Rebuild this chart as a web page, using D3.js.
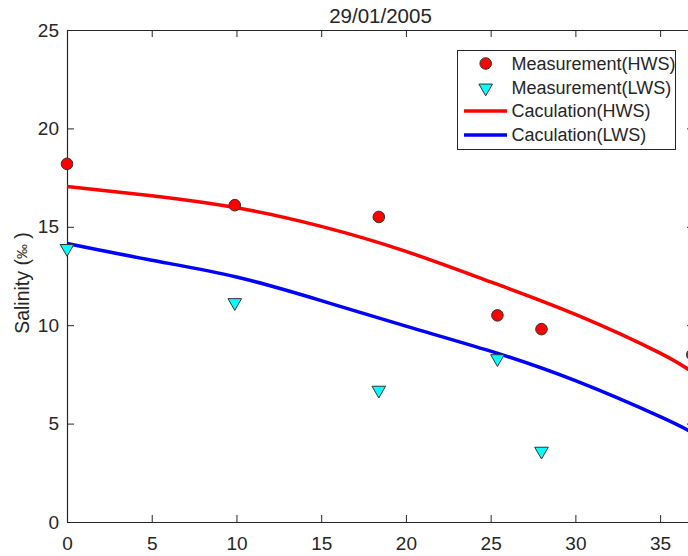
<!DOCTYPE html>
<html>
<head>
<meta charset="utf-8">
<script src="https://cdn.jsdelivr.net/npm/d3@7"></script>
<style>
  html, body { margin: 0; padding: 0; background: #fff; overflow: hidden; }
  svg { display: block; font-family: Arial, "Liberation Sans", Helvetica, sans-serif; }
</style>
</head>
<body>
<svg id="chart" width="688" height="556"></svg>
<script>
// ---- data ----
const title = "29/01/2005";
const yLabel = "Salinity";
const xTicks = [0, 5, 10, 15, 20, 25, 30, 35];
const yTicks = [0, 5, 10, 15, 20, 25];
const xDomain = [0, 37];
const yDomain = [0, 25];

const measHWSx = [0, 9.9, 18.4, 25.4, 28.0, 36.9];
const measHWSy = [18.2, 16.1, 15.5, 10.5, 9.8, 8.5];

const measLWSx = [0, 9.9, 18.4, 25.4, 28.0];
const measLWSy = [13.9, 11.15, 6.7, 8.3, 3.6];

const calcX    = [0, 5, 10, 15, 20, 25, 30, 35, 37];
const calcHWSy = [17.05, 16.58, 15.97, 15.02, 13.75, 12.2, 10.55, 8.58, 7.55];
const calcLWSy = [14.15, 13.3, 12.45, 11.25, 9.95, 8.68, 7.18, 5.35, 4.5];

const legendLabels = ["Measurement(HWS)", "Measurement(LWS)", "Caculation(HWS)", "Caculation(LWS)"];

// ---- layout ----
const svg = d3.select("#chart");
const mLeft = 67, mRight = 694, mTop = 30, mBottom = 522;
const axisColor = "#262626";
const fontFam = "Arial, 'Liberation Sans', sans-serif";

const x = d3.scaleLinear().domain(xDomain).range([mLeft, mRight]);
const y = d3.scaleLinear().domain(yDomain).range([mBottom, mTop]);

const tickLen = 7;

const xAxis = d3.axisBottom(x).tickValues(xTicks).tickSizeInner(-tickLen).tickSizeOuter(0).tickPadding(15).tickFormat(d3.format("d"));
const gx = svg.append("g").attr("transform", `translate(0,${mBottom})`).call(xAxis);
const xAxisTop = d3.axisTop(x).tickValues(xTicks).tickSizeInner(-tickLen).tickSizeOuter(0).tickFormat("");
const gxt = svg.append("g").attr("transform", `translate(0,${mTop})`).call(xAxisTop);
const yAxis = d3.axisLeft(y).tickValues(yTicks).tickSizeInner(-tickLen).tickSizeOuter(0).tickPadding(8).tickFormat(d3.format("d"));
const gy = svg.append("g").attr("transform", `translate(${mLeft},0)`).call(yAxis);
const yAxisR = d3.axisRight(y).tickValues(yTicks).tickSizeInner(-tickLen).tickSizeOuter(0).tickFormat("");
const gyr = svg.append("g").attr("transform", `translate(${mRight},0)`).call(yAxisR);

[gx, gxt, gy, gyr].forEach(a => {
  a.select(".domain").attr("stroke", axisColor).attr("stroke-width", 1.2);
  a.selectAll(".tick line").attr("stroke", axisColor).attr("stroke-width", 1);
  a.selectAll(".tick text").attr("fill", axisColor).attr("font-size", 19).attr("font-family", fontFam);
});

// title
svg.append("text")
  .attr("x", (mLeft + mRight) / 2)
  .attr("y", 23)
  .attr("text-anchor", "middle")
  .attr("fill", axisColor)
  .attr("font-size", 20.5)
  .text(title);

// y label
const yl = svg.append("text")
  .attr("transform", `translate(29,${(mTop + mBottom) / 2 + 7}) rotate(-90)`)
  .attr("text-anchor", "middle")
  .attr("fill", axisColor)
  .attr("font-size", 19.5);
yl.append("tspan").text(yLabel + " (");
yl.append("tspan").attr("font-size", 15).attr("dy", -2).text("‰");
yl.append("tspan").attr("dy", 2).text(" )");

// curves
const lineGen = d3.line().x(d => x(d[0])).y(d => y(d[1])).curve(d3.curveNatural);
const hwsCurve = calcX.map((v, i) => [v, calcHWSy[i]]);
const lwsCurve = calcX.map((v, i) => [v, calcLWSy[i]]);

svg.append("path").datum(hwsCurve).attr("d", lineGen)
  .attr("fill", "none").attr("stroke", "#ff0000").attr("stroke-width", 3.5);
svg.append("path").datum(lwsCurve).attr("d", lineGen)
  .attr("fill", "none").attr("stroke", "#0000ff").attr("stroke-width", 3.5);

// markers
const circleR = 5.8;
const triSym = d3.symbol().type(d3.symbolTriangle).size(80);

svg.append("g").selectAll("circle")
  .data(measHWSx.map((v, i) => [v, measHWSy[i]]))
  .join("circle")
  .attr("cx", d => x(d[0])).attr("cy", d => y(d[1])).attr("r", circleR)
  .attr("fill", "#ff0000").attr("stroke", "#333").attr("stroke-width", 1);

svg.append("g").selectAll("path")
  .data(measLWSx.map((v, i) => [v, measLWSy[i]]))
  .join("path")
  .attr("d", triSym)
  .attr("transform", d => `translate(${x(d[0])},${y(d[1])}) rotate(180)`)
  .attr("fill", "#00ffff").attr("stroke", "#333").attr("stroke-width", 1);

// legend
const lg = svg.append("g");
lg.append("rect").attr("x", 457.5).attr("y", 50.5).attr("width", 218).attr("height", 99)
  .attr("fill", "#fff").attr("stroke", axisColor).attr("stroke-width", 1);
const rowsY = [63.5, 88, 111, 135];
const symX = 485.7, textX = 511.5;
lg.append("circle").attr("cx", symX).attr("cy", rowsY[0]).attr("r", circleR)
  .attr("fill", "#ff0000").attr("stroke", "#333").attr("stroke-width", 1);
lg.append("path").attr("d", triSym)
  .attr("transform", `translate(${symX},${rowsY[1]}) rotate(180)`)
  .attr("fill", "#00ffff").attr("stroke", "#333").attr("stroke-width", 1);
lg.append("line").attr("x1", 464).attr("x2", 507).attr("y1", rowsY[2]).attr("y2", rowsY[2])
  .attr("stroke", "#ff0000").attr("stroke-width", 3.5);
lg.append("line").attr("x1", 464).attr("x2", 507).attr("y1", rowsY[3]).attr("y2", rowsY[3])
  .attr("stroke", "#0000ff").attr("stroke-width", 3.5);
lg.selectAll("text.lab").data(legendLabels).join("text")
  .attr("class", "lab")
  .attr("x", textX).attr("y", (d, i) => rowsY[i])
  .attr("dy", "0.36em")
  .attr("fill", axisColor)
  .attr("font-size", 18)
  .text(d => d);
</script>
</body>
</html>
